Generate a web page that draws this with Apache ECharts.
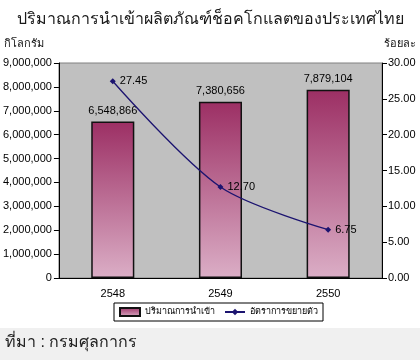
<!DOCTYPE html>
<html>
<head>
<meta charset="utf-8">
<script src="https://cdn.jsdelivr.net/npm/echarts@6/dist/echarts.min.js"></script>
<style>
  html, body { margin: 0; padding: 0; background: #ffffff; }
  #chart { width: 420px; height: 360px; }
</style>
</head>
<body>
<div id="chart"></div>
<script>
// data
var years = ['2548', '2549', '2550'];
var importKg = [6548866, 7380656, 7879104];
var growthPct = [27.45, 12.70, 6.75];
var seriesNames = ['ปริมาณการนำเข้า', 'อัตราการขยายตัว'];

var chart = echarts.init(document.getElementById('chart'));
var font = 'Liberation Sans, Noto Sans, sans-serif';

var options = {
    animation: false,
    backgroundColor: '#ffffff',
    textStyle: { fontFamily: font },
    graphic: [{
        type: 'rect',
        left: 0, top: 328,
        shape: { width: 420, height: 32 },
        style: { fill: '#f0f0f0' },
        silent: true
    }, {
        type: 'text',
        left: 5, top: 335,
        style: { text: 'ที่มา : กรมศุลกากร', fontSize: 16, fill: '#222', fontFamily: font }
    }, {
        type: 'text',
        left: 4, top: 38,
        style: { text: 'กิโลกรัม', fontSize: 11, fill: '#111', fontFamily: font }
    }, {
        type: 'text',
        right: 4, top: 38,
        style: { text: 'ร้อยละ', fontSize: 11, fill: '#111', fontFamily: font }
    }],
    title: {
        text: 'ปริมาณการนำเข้าผลิตภัณฑ์ช็อคโกแลตของประเทศไทย',
        left: 'center',
        top: 7,
        textStyle: { fontSize: 16, fontWeight: 'normal', color: '#1a1a1a', fontFamily: font }
    },
    legend: {
        top: 303,
        left: 114,
        padding: [4, 5, 4, 5],
        backgroundColor: '#ffffff',
        borderColor: '#000',
        borderWidth: 1,
        itemGap: 9,
        itemWidth: 20,
        itemHeight: 8,
        textStyle: { fontSize: 9, color: '#000' },
        data: [
            { name: seriesNames[0], icon: 'rect' },
            { name: seriesNames[1] }
        ]
    },
    grid: {
        left: 57,
        right: 38,
        top: 63,
        bottom: 82,
        show: true,
        backgroundColor: '#c0c0c0',
        borderColor: '#808080',
        borderWidth: 1
    },
    xAxis: [{
        type: 'category',
        data: years,
        axisLine: { lineStyle: { color: '#000' } },
        axisTick: { show: false },
        axisLabel: { color: '#000', fontSize: 11, margin: 10 }
    }],
    yAxis: [{
        type: 'value',
        min: 0,
        max: 9000000,
        interval: 1000000,
        splitLine: { show: false },
        axisLine: { show: true, lineStyle: { color: '#000' } },
        axisTick: { show: true, length: 5, lineStyle: { color: '#000' } },
        axisLabel: {
            color: '#000', fontSize: 11, margin: 7,
            formatter: function (v) { return v.toLocaleString('en-US'); }
        }
    }, {
        type: 'value',
        min: 0,
        max: 30,
        interval: 5,
        position: 'right',
        splitLine: { show: false },
        axisLine: { show: true, lineStyle: { color: '#000' } },
        axisTick: { show: true, length: 5, lineStyle: { color: '#000' } },
        axisLabel: {
            color: '#000', fontSize: 11, margin: 6,
            formatter: function (v) { return v.toFixed(2); }
        }
    }],
    series: [{
        name: seriesNames[0],
        type: 'bar',
        barWidth: '40%',
        data: importKg,
        itemStyle: {
            color: new echarts.graphic.LinearGradient(0, 0, 0, 1, [
                { offset: 0, color: '#9c2f64' },
                { offset: 1, color: '#dbaec6' }
            ]),
            borderColor: '#111',
            borderWidth: 1.5
        },
        label: {
            show: true,
            position: 'top',
            distance: 5,
            color: '#000',
            fontSize: 11,
            formatter: function (p) { return p.value.toLocaleString('en-US'); }
        }
    }, {
        name: seriesNames[1],
        type: 'line',
        yAxisIndex: 1,
        smooth: 0.3,
        data: growthPct,
        symbol: 'diamond',
        symbolSize: 6,
        lineStyle: { color: '#1c1470', width: 1.3 },
        itemStyle: { color: '#1c1470' },
        label: {
            show: true,
            position: 'right',
            distance: 4,
            color: '#000',
            fontSize: 11,
            formatter: function (p) { return p.value.toFixed(2); }
        },
        z: 3
    }]
};
chart.setOption(options);
</script>
</body>
</html>
